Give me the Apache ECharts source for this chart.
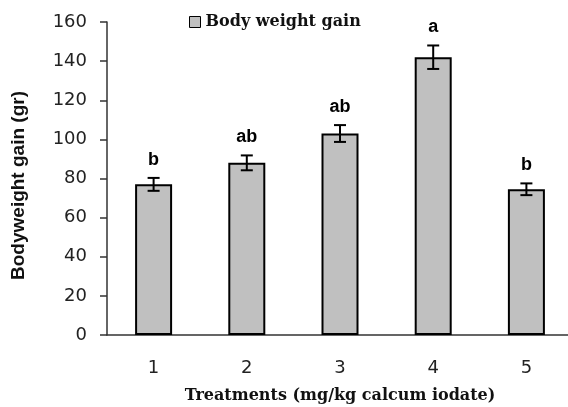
<!DOCTYPE html>
<html><head><meta charset="utf-8">
<script src="https://cdn.jsdelivr.net/npm/echarts@6/dist/echarts.min.js"></script>
<style>html,body{margin:0;padding:0;background:#fff}#c{width:568px;height:407px}</style>
</head><body><div id="c"></div>
<script>
const categories = ['1', '2', '3', '4', '5'];
const gain = [77, 88, 103, 142, 74.5];
const errors = [3.3, 3.8, 4.3, 6, 3];
const letters = ['b', 'ab', 'ab', 'a', 'b'];
const yTicks = [0, 20, 40, 60, 80, 100, 120, 140, 160];

const chart = echarts.init(document.getElementById('c'));
chart.setOption({
  animation: false,
  grid: { left: 107, top: 22, bottom: 72, width: 466, outerBoundsMode: 'none', containLabel: false },
  legend: {
    data: [{ name: 'Body weight gain', icon: 'rect' }],
    left: 184, top: 9,
    itemWidth: 11, itemHeight: 11, itemGap: 2,
    itemStyle: { borderColor: '#000', borderWidth: 1 },
    textStyle: { fontFamily: 'DejaVu Serif', fontWeight: 'bold', fontSize: 16, color: '#111' }
  },
  xAxis: {
    type: 'category', data: categories,
    name: 'Treatments (mg/kg calcum iodate)', nameLocation: 'middle', nameGap: 53,
    nameTextStyle: { fontFamily: 'DejaVu Serif', fontWeight: 'bold', fontSize: 16, color: '#111' },
    axisLine: { lineStyle: { color: '#333', width: 1.5 } },
    axisTick: { length: 6, lineStyle: { color: '#333', width: 1.5 } },
    axisLabel: { fontFamily: 'DejaVu Sans', fontSize: 18, color: '#222', margin: 24 }
  },
  yAxis: {
    type: 'value', min: 0, max: 160, interval: 20,
    name: 'Bodyweight gain (gr)', nameLocation: 'middle', nameGap: 79, nameRotate: 90,
    nameTextStyle: { fontFamily: 'Liberation Sans', fontWeight: 'bold', fontSize: 19, color: '#111',
      padding: [0, 14, 0, 0] },
    splitLine: { show: false },
    axisLine: { show: true, lineStyle: { color: '#333', width: 1.5 } },
    axisTick: { show: true, length: 7, lineStyle: { color: '#333', width: 1.5 } },
    axisLabel: { fontFamily: 'DejaVu Sans', fontSize: 18, color: '#222', margin: 20,
      formatter: v => yTicks.includes(v) ? String(v) : '' }
  },
  series: [
    {
      name: 'Body weight gain', type: 'bar', data: gain, barWidth: 37,
      itemStyle: { color: '#c0c0c0', borderColor: '#000', borderWidth: 2 }
    },
    {
      type: 'custom', silent: true, z: 5,
      data: gain.map((v, i) => [i, v, errors[i], letters[i]]),
      renderItem: (params, api) => {
        const x = api.value(0), v = api.value(1), e = api.value(2);
        const top = api.coord([x, v + e]);
        const bot = api.coord([x, v - e]);
        const cap = 6;
        const st = { stroke: '#000', lineWidth: 2 };
        return {
          type: 'group',
          children: [
            { type: 'line', shape: { x1: top[0], y1: top[1], x2: bot[0], y2: bot[1] }, style: st },
            { type: 'line', shape: { x1: top[0] - cap, y1: top[1], x2: top[0] + cap, y2: top[1] }, style: st },
            { type: 'line', shape: { x1: bot[0] - cap, y1: bot[1], x2: bot[0] + cap, y2: bot[1] }, style: st },
            { type: 'text', style: { text: letters[params.dataIndex], x: top[0], y: top[1] - 9,
                textAlign: 'center', textVerticalAlign: 'bottom',
                font: 'bold 18px "Liberation Sans"', fill: '#000' } }
          ]
        };
      }
    }
  ]
});
</script></body></html>
